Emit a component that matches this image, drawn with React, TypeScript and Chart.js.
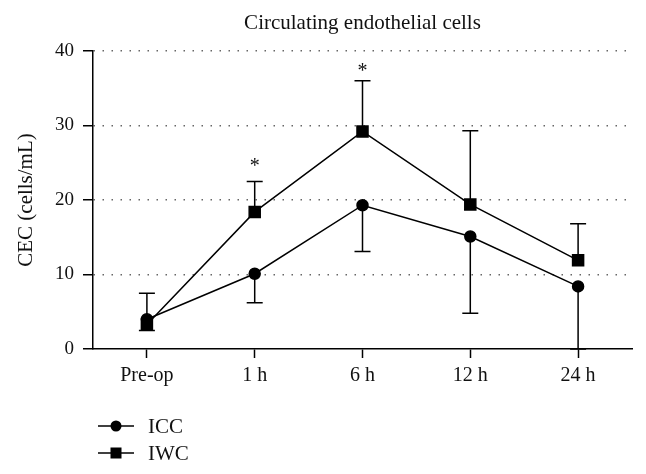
import React, { useEffect, useRef } from "react";
import { Chart, registerables } from "chart.js";

Chart.register(...registerables);

const categories = ["Pre-op", "1 h", "6 h", "12 h", "24 h"];
const iccValues = [4.0, 10.1, 19.3, 15.1, 8.4];
const iwcValues = [3.3, 18.4, 29.2, 19.4, 11.9];
const iccErrLow = [2.5, 6.2, 13.1, 4.8, 0];
const iwcErrHigh = [7.5, 22.5, 36.0, 29.3, 16.8];
const sigMarks: (number | null)[] = [null, 25.0, 37.7, null, null];
const yTicks = [0, 10, 20, 30, 40];

const SERIF = "'Liberation Serif', 'DejaVu Serif', serif";

const overlayPlugin = {
  id: "overlay",
  beforeDatasetsDraw(chart: any) {
    const { ctx, scales } = chart;
    const x = scales.x;
    const y = scales.y;
    ctx.save();
    ctx.strokeStyle = "#000";
    ctx.lineWidth = 1.5;
    const cap = 8;
    const drawBar = (i: number, from: number, to: number) => {
      const px = x.getPixelForValue(i);
      const y0 = y.getPixelForValue(from);
      const y1 = y.getPixelForValue(to);
      ctx.beginPath();
      ctx.moveTo(px, y0);
      ctx.lineTo(px, y1);
      ctx.moveTo(px - cap, y1);
      ctx.lineTo(px + cap, y1);
      ctx.stroke();
    };
    categories.forEach((_, i) => {
      drawBar(i, iccValues[i], iccErrLow[i]);
      drawBar(i, iwcValues[i], iwcErrHigh[i]);
    });
    ctx.restore();
  },
  afterDraw(chart: any) {
    const { ctx, scales, chartArea } = chart;
    const x = scales.x;
    const y = scales.y;
    ctx.save();
    ctx.fillStyle = "#111";
    // title
    ctx.font = `21px ${SERIF}`;
    ctx.textAlign = "center";
    ctx.textBaseline = "middle";
    ctx.fillText("Circulating endothelial cells", (chartArea.left + chartArea.right) / 2, 23);
    // y axis title
    ctx.save();
    ctx.translate(26, (chartArea.top + chartArea.bottom) / 2);
    ctx.rotate(-Math.PI / 2);
    ctx.fillText("CEC (cells/mL)", 0, 0);
    ctx.restore();
    // significance marks
    ctx.font = `20px ${SERIF}`;
    sigMarks.forEach((v, i) => {
      if (v == null) return;
      ctx.fillText("*", x.getPixelForValue(i), y.getPixelForValue(v) + 4);
    });
    // legend
    const items = [
      { label: "ICC", style: "circle", yy: 426 },
      { label: "IWC", style: "square", yy: 453 },
    ];
    ctx.strokeStyle = "#000";
    ctx.lineWidth = 1.5;
    ctx.font = `21px ${SERIF}`;
    ctx.textAlign = "left";
    items.forEach((it) => {
      ctx.beginPath();
      ctx.moveTo(98, it.yy);
      ctx.lineTo(134, it.yy);
      ctx.stroke();
      ctx.fillStyle = "#000";
      if (it.style === "circle") {
        ctx.beginPath();
        ctx.arc(116, it.yy, 5.5, 0, Math.PI * 2);
        ctx.fill();
      } else {
        ctx.fillRect(116 - 5.5, it.yy - 5.5, 11, 11);
      }
      ctx.fillStyle = "#111";
      ctx.fillText(it.label, 148, it.yy + 1);
    });
    ctx.restore();
  },
};

export default function App() {
  const ref = useRef<HTMLCanvasElement | null>(null);
  useEffect(() => {
    document.body.style.margin = "0";
    const canvas = ref.current;
    if (!canvas) return;
    const chart = new Chart(canvas, {
      type: "line",
      data: {
        labels: categories,
        datasets: [
          {
            label: "ICC",
            data: iccValues,
            borderColor: "#000",
            backgroundColor: "#000",
            borderWidth: 1.5,
            pointStyle: "circle",
            pointRadius: 5.5,
            pointHoverRadius: 5.5,
            tension: 0,
          },
          {
            label: "IWC",
            data: iwcValues,
            borderColor: "#000",
            backgroundColor: "#000",
            borderWidth: 1.5,
            pointStyle: "rect",
            pointRadius: 7.8,
            pointHoverRadius: 7.8,
            tension: 0,
          },
        ],
      },
      options: {
        responsive: false,
        animation: false,
        events: [],
        layout: { padding: { top: 51, right: 14, left: 0, bottom: 0 } },
        plugins: {
          legend: { display: false },
          title: { display: false },
          tooltip: { enabled: false },
        },
        scales: {
          x: {
            type: "category",
            offset: true,
            grid: {
              offset: false,
              drawOnChartArea: false,
              drawTicks: true,
              tickLength: 9,
              tickColor: "#000",
              tickWidth: 1.5,
            },
            border: { display: true, color: "#000", width: 1.5 },
            ticks: {
              color: "#111",
              padding: 6,
              font: { family: SERIF, size: 20 },
              maxRotation: 0,
            },
            afterFit(scale: any) {
              scale.height = 474 - 349;
            },
          },
          y: {
            min: 0,
            max: 40,
            afterBuildTicks(scale: any) {
              scale.ticks = yTicks.map((v) => ({ value: v }));
            },
            grid: {
              color: (c: any) => (c.tick && c.tick.value === 0 ? "rgba(0,0,0,0)" : "#666"),
              lineWidth: 1.5,
              drawTicks: true,
              tickLength: 10,
              tickColor: "#000",
              tickWidth: 1.5,
              tickBorderDash: [],
            },
            border: { display: true, color: "#000", width: 1.5, dash: [1.5, 7.5] },
            ticks: {
              color: "#111",
              padding: 9,
              font: { family: SERIF, size: 19 },
            },
            afterFit(scale: any) {
              scale.width = 93;
            },
          },
        },
      },
      plugins: [overlayPlugin],
    } as any);
    return () => chart.destroy();
  }, []);
  return (
    <div style={{ width: 646, height: 474 }}>
      <canvas ref={ref} width={646} height={474} />
    </div>
  );
}
